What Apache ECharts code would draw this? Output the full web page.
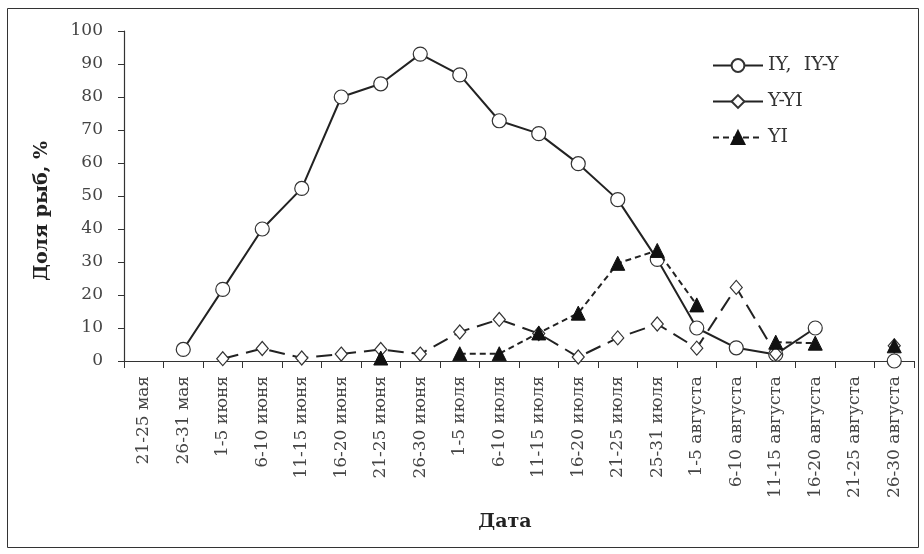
<!DOCTYPE html>
<html>
<head>
<meta charset="utf-8">
<script src="https://cdn.jsdelivr.net/npm/echarts@6/dist/echarts.min.js"></script>
<style>html,body{margin:0;padding:0;background:#fff}#c{width:924px;height:554px}</style>
</head>
<body>
<div id="c"></div>
<script>
const categories = ['21-25 мая','26-31 мая','1-5 июня','6-10 июня','11-15 июня','16-20 июня','21-25 июня','26-30 июня','1-5 июля','6-10 июля','11-15 июля','16-20 июля','21-25 июля','25-31 июля','1-5 августа','6-10 августа','11-15 августа','16-20 августа','21-25 августа','26-30 августа'];
const seriesIY = [null, 3.5, 21.7, 40, 52.3, 80, 84, 93, 86.7, 72.8, 68.9, 59.8, 48.9, 30.8, 10, 4, 2, 10, null, 0];
const seriesYYI = [null, null, 0.7, 3.8, 0.9, 2.1, 3.5, 2.1, 8.8, 12.6, 8.3, 1.2, 7, 11.2, 3.9, 22.3, 2.2, null, null, 4.6];
const seriesYI = [null, null, null, null, null, null, 0.9, null, 2.2, 2.2, 8.5, 14.5, 29.6, 33.5, 17, null, 5.7, 5.4, null, 4.6];
const yTicks = [0, 10, 20, 30, 40, 50, 60, 70, 80, 90, 100];
const xTitle = 'Дата';
const yTitle = 'Доля рыб, %';

const font = 'DejaVu Serif';
const chart = echarts.init(document.getElementById('c'), null, {renderer: 'canvas'});
chart.setOption({
  animation: false,
  backgroundColor: '#fff',
  graphic: [
    {
      type: 'rect', shape: {x: 7.5, y: 8.5, width: 911, height: 539},
      style: {fill: 'none', stroke: '#333', lineWidth: 1}, silent: true, z: -1
    },
    {
      type: 'text', x: 42, y: 211, rotation: Math.PI / 2,
      style: {text: yTitle, font: 'bold 19px "DejaVu Serif"', fill: '#222', align: 'center', verticalAlign: 'middle'}
    },
    {
      type: 'text', x: 505, y: 522,
      style: {text: xTitle, font: 'bold 19px "DejaVu Serif"', fill: '#222', align: 'center', verticalAlign: 'middle'}
    }
  ],
  grid: {left: 124, right: 10, top: 31, bottom: 193, containLabel: false},
  legend: {
    orient: 'vertical', left: 707, top: 51, itemWidth: 50, itemHeight: 16, itemGap: 17,
    textStyle: {fontFamily: font, fontSize: 19, color: '#333'},
    data: [
      {name: 'IY,  IY-Y'},
      {name: 'Y-YI', lineStyle: {type: 'solid'}},
      {name: 'YI'}
    ]
  },
  xAxis: {
    type: 'category', data: categories, boundaryGap: true,
    axisLine: {lineStyle: {color: '#333', width: 1.2}},
    axisTick: {show: true, length: 7, interval: 0, lineStyle: {color: '#333'}},
    axisLabel: {interval: 0, rotate: 90, margin: 15, fontFamily: font, fontSize: 17, color: '#444'}
  },
  yAxis: {
    type: 'value', min: 0, max: 100, interval: 10,
    splitLine: {show: false},
    axisLine: {show: true, lineStyle: {color: '#333', width: 1.2}},
    axisTick: {show: true, length: 6, lineStyle: {color: '#333'}},
    axisLabel: {margin: 21, fontFamily: font, fontSize: 17, color: '#444',
      formatter: v => yTicks.includes(v) ? String(v) : ''}
  },
  series: [
    {
      name: 'IY,  IY-Y', type: 'line', data: seriesIY, connectNulls: false,
      symbol: 'circle', symbolSize: 14,
      lineStyle: {color: '#222', width: 2},
      itemStyle: {color: '#fff', borderColor: '#333', borderWidth: 1.2},
      z: 2
    },
    {
      name: 'Y-YI', type: 'line', data: seriesYYI, connectNulls: false,
      symbol: 'diamond', symbolSize: [12, 14],
      lineStyle: {color: '#222', width: 2, type: [16, 8]},
      itemStyle: {color: '#fff', borderColor: '#333', borderWidth: 1.2},
      z: 3
    },
    {
      name: 'YI', type: 'line', data: seriesYI, connectNulls: false,
      symbol: 'triangle', symbolSize: 14,
      lineStyle: {color: '#222', width: 2, type: [6, 4]},
      itemStyle: {color: '#111', borderColor: '#111', borderWidth: 1},
      z: 4
    }
  ]
});
</script>
</body>
</html>
